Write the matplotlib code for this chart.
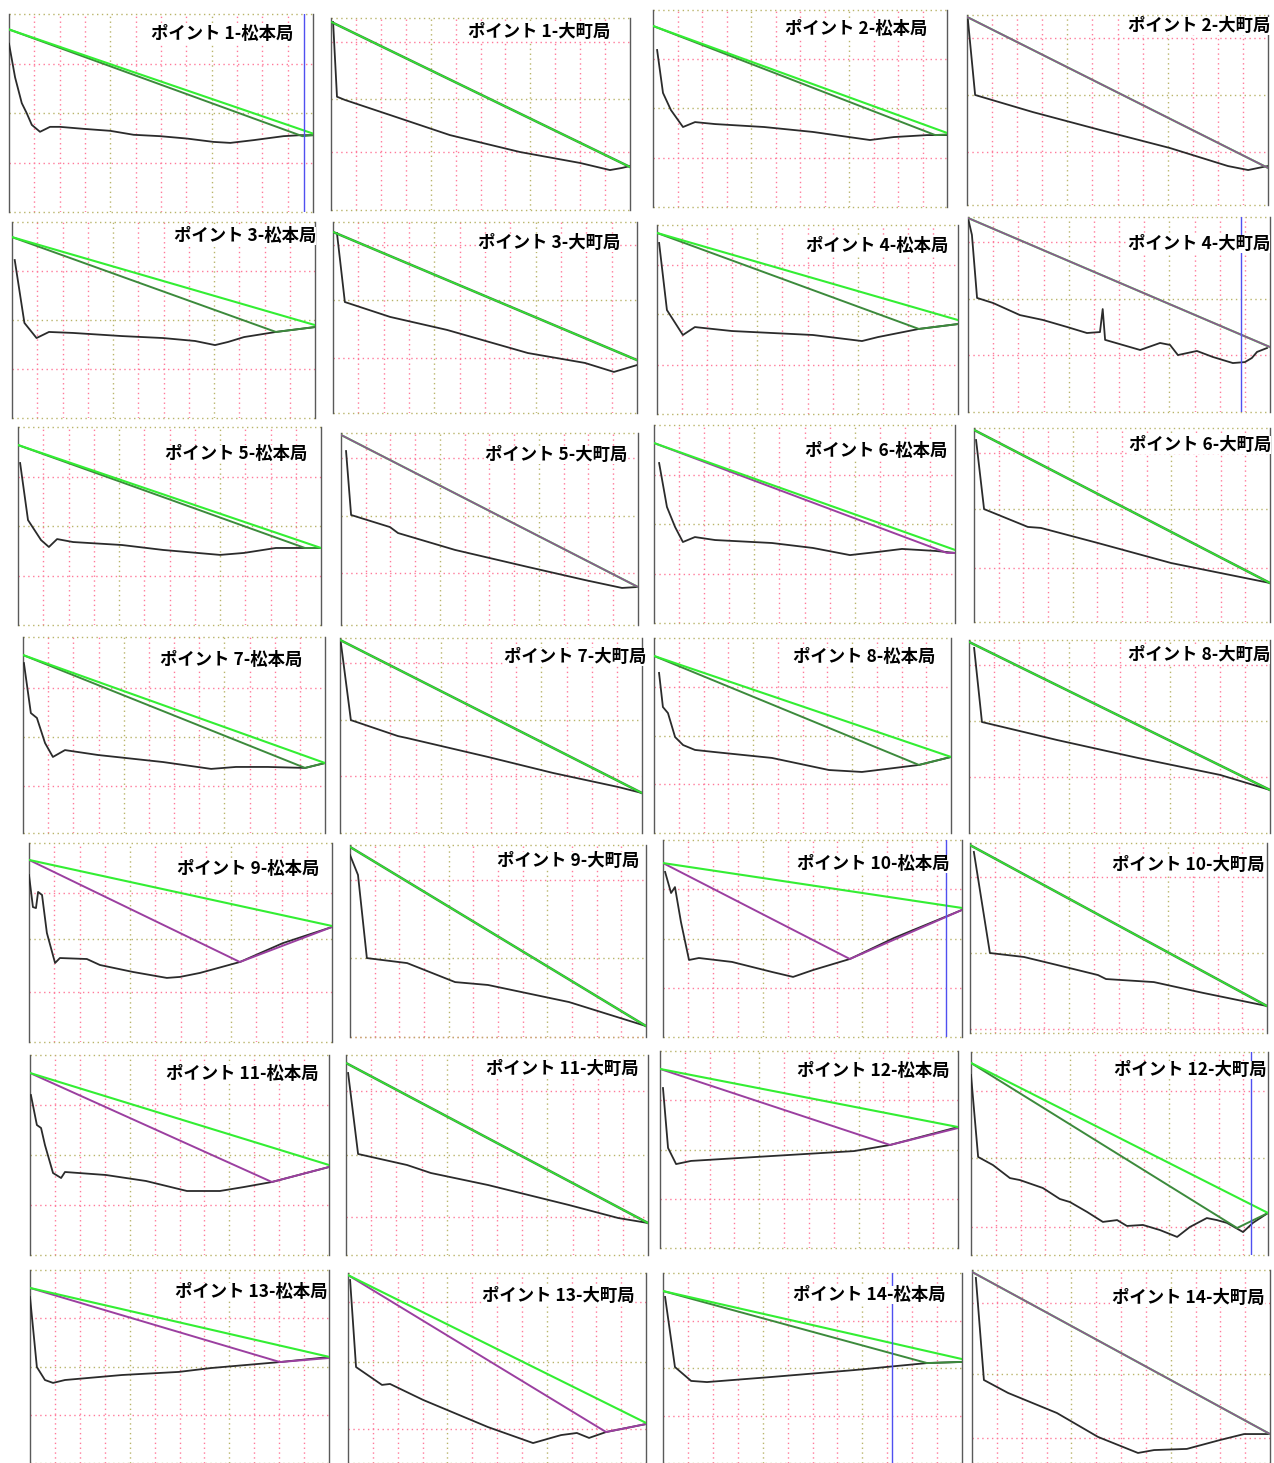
import matplotlib
matplotlib.use("Agg")
import matplotlib.pyplot as plt

plt.rcParams['font.family'] = ['Noto Sans CJK JP', 'DejaVu Sans']

# Profile panels: 14 points x 2 stations
points = list(range(1, 15))
stations = ["松本局", "大町局"]
titles = [f"ポイント {p}-{s}" for p in points for s in stations]

# terrain profile (distance 0-100, elevation 0-100 in panel scale)
terrain = [
    [(0, 85), (2, 68), (4.2, 55), (5.8, 50), (7.5, 44), (10.2, 40.5), (13.5, 43), (16.8, 43), (24.5, 42), (33.3, 41),
     (41, 39), (49.7, 38.3), (58.5, 37.1), (67.3, 35.4), (72.8, 34.9), (80.5, 36.3), (90.3, 38.3), (95.8, 38.8), (100, 38.8)],
    [(0.7, 97.9), (2, 59), (4.7, 57.3), (19.7, 49.5), (39.8, 39), (63.2, 30.2), (83.3, 24.5), (93.3, 20.8), (97.3, 21.9), (100, 22.9)],
    [(1.4, 79.7), (3.4, 57.9), (6.1, 49.2), (10.2, 40.6), (14.3, 43.1), (21.1, 42.1), (37.8, 40.6), (54.4, 38.1), (73.8, 34),
     (81.9, 35.5), (93.2, 36.5), (100, 36.5)],
    [(0.3, 97.4), (2.7, 57.9), (21.9, 48.9), (44.2, 39.5), (67.4, 30), (86.7, 20.5), (93.4, 18.4), (98.3, 20), (100, 20.5)],
    [(0.9, 80.6), (4.1, 48.5), (8.1, 40.8), (12.2, 43.9), (20.1, 43.4), (36.3, 41.8), (49.8, 40.8), (60.4, 39.3), (67, 37.2),
     (71.3, 38.8), (76.6, 41.3), (87.1, 43.9), (100, 46.4)],
    [(1.3, 94.2), (3.9, 58.1), (18.8, 50.3), (37.5, 43.5), (64.1, 31.4), (82.9, 26.2), (92.4, 21.5), (100, 25.1)],
    [(0.7, 90.5), (3.3, 55), (8.6, 41.8), (12.6, 46), (24.9, 43.9), (51.8, 41.8), (68.1, 38.6), (73.4, 40.7), (87, 45), (100, 47.6)],
    [(0, 99.5), (1.3, 90.8), (3, 58.5), (8.3, 55.9), (17.2, 49.7), (24.8, 47.2), (32.8, 43.6), (39.4, 40.5), (43.7, 41),
     (44.6, 52.8), (45.4, 37), (57, 31.8), (63.6, 35.4), (66.9, 34.4), (69.5, 29.2), (75.8, 31.3), (81.1, 28.2), (87.7, 25.1),
     (91.7, 25.6), (94, 27.7), (95.7, 30.8), (99, 32.8)],
    [(0.7, 81.8), (3.3, 53), (7.6, 42.9), (10.2, 39.4), (12.9, 43.4), (18.2, 41.9), (34.3, 40.4), (47.9, 37.9), (66.7, 35.4),
     (74.6, 36.4), (85.1, 38.9), (93.4, 38.9), (100, 38.9)],
    [(1.7, 90.6), (3.4, 57.3), (16.5, 51), (19.2, 47.9), (38.4, 39.1), (63, 30.2), (82.2, 23.4), (94.6, 19.3), (100, 19.8)],
    [(1.7, 80.8), (4.3, 58.6), (7, 48.5), (9.6, 40.9), (13.6, 43.4), (20.3, 41.9), (39.2, 40.4), (52.8, 37.9), (65.1, 34.3),
     (74.4, 35.9), (82.4, 37.4), (93.4, 36.4), (100, 35.4)],
    [(0.7, 93.8), (3.4, 58.2), (18.2, 49), (22.6, 48.5), (41.9, 40.7), (66.6, 30.4), (83.1, 25.3), (100, 20.1)],
    [(0.3, 86.7), (2.6, 61.2), (4.6, 58.7), (7.3, 45.9), (9.9, 38.8), (13.9, 42.3), (24.8, 39.8), (46.4, 36.2), (62.3, 32.7),
     (70.5, 33.7), (81.1, 33.7), (93.4, 33.2), (100, 35.7)],
    [(0.3, 97.4), (3.6, 57.9), (19.2, 49.7), (22.2, 48.7), (49, 39), (70.5, 30.8), (92.1, 23.6), (100, 20.5)],
    [(1.7, 82.1), (3, 64.6), (4.7, 61.5), (7.1, 49.2), (9.8, 45.1), (13.8, 42.6), (20.5, 41.5), (39.7, 38.5), (58.9, 32.3),
     (70, 31.3), (75.4, 32.3), (89.2, 34.9), (100, 39)],
    [(1.7, 95.9), (4.3, 57.5), (18.3, 52.3), (29.2, 48.2), (56.1, 38.9), (83.4, 30.1), (100, 22.3)],
    [(0, 83.9), (1.3, 67.8), (2.3, 67.3), (3, 75.4), (4.3, 73.9), (5.9, 54.8), (8.6, 39.7), (10.2, 42.2), (19.1, 41.7),
     (23.4, 38.7), (34.3, 35.2), (45.5, 32.2), (49.8, 32.7), (56.4, 34.7), (69.6, 40.2), (83.8, 49.7), (100, 57.8)],
    [(0, 94.8), (2.7, 84.4), (5.7, 41.1), (19.3, 38.5), (35.5, 28.6), (46.6, 27.1), (74, 18.2), (100, 5.7)],
    [(0.7, 83.8), (2.7, 73.1), (4, 76.1), (6, 58.4), (8.7, 39.1), (12, 40.1), (23.1, 38.1), (36.5, 33), (43.5, 30.5),
     (50.2, 34), (62.5, 39.6), (77.3, 50.3), (100, 64.5)],
    [(1.3, 95.3), (6.7, 42.1), (18.2, 40), (29.3, 35.8), (43.1, 30.5), (45.8, 28.4), (61.9, 26.8), (78.5, 21.1), (100, 14.2)],
    [(0.3, 80), (2.3, 65), (3.7, 63.5), (5, 55), (7.7, 41), (10.4, 38.5), (11.7, 41.5), (25.4, 40), (38.8, 37), (52.5, 32),
     (63.5, 32), (71.6, 34), (80.9, 36.5), (100, 44)],
    [(0.7, 91), (4, 50.5), (20.2, 45), (28.1, 41), (47, 35), (73.8, 25), (90.1, 18.5), (100, 16)],
    [(1, 81.2), (2.7, 50.8), (5.4, 42.6), (10.4, 44.2), (37.6, 46.7), (65.1, 49.2), (77.2, 52.3), (100, 61.4)],
    [(0, 88.7), (2.4, 48.3), (7.4, 44.3), (13.1, 37.9), (16.5, 36.9), (24.2, 33), (29.9, 27.6), (33.3, 26.1), (39.1, 21.2),
     (44.4, 16.3), (49.2, 17.2), (52.5, 14.3), (57.9, 14.8), (63.6, 12.3), (69.4, 8.9), (73.7, 13.8), (79.4, 18.2),
     (82.8, 17.2), (86.2, 15.8), (91.6, 11.3), (94.9, 15.8), (100, 20.7)],
    [(0, 86), (2.3, 49.7), (5, 43), (7.7, 41.5), (11.7, 43), (30.8, 45.6), (49.8, 47.2), (60.5, 49.2), (83.6, 52.3), (100, 54.9)],
    [(0.7, 96.3), (2.7, 50.5), (11.4, 41.1), (14.1, 41.6), (25.2, 33.2), (47, 18.9), (62.1, 10.5), (71.5, 14.7), (76.8, 15.8),
     (80.9, 13.2), (86.6, 16.3), (100, 20.5)],
    [(0.7, 87.4), (4, 50.5), (9.4, 43.2), (14.7, 42.6), (36.5, 45.3), (63.9, 48.9), (88.3, 52.6), (100, 53.2)],
    [(1.3, 95.9), (4, 43), (12.1, 36.3), (28.5, 25.9), (42.3, 13.5), (55.7, 5.2), (61.1, 6.7), (72.1, 7.3), (83.2, 11.9),
     (91.3, 15), (100, 15)],
]

# line of sight (elevation at start, at end)
los = [(92.2, 39.6), (98, 22.4), (91.9, 37.6), (99, 19.5), (92.3, 47.4), (94.8, 27.7), (95.8, 49.7), (99.5, 33.3),
       (90.9, 38.9), (99, 19.8), (90.9, 36.9), (99, 20.1), (90.8, 35.7), (99, 20.5), (90.8, 39), (99, 22.3),
       (91.5, 58.3), (99, 5.7), (88.3, 65.5), (98.9, 14.2), (91, 45), (96, 16), (90.9, 61.4), (94.6, 20.7),
       (90.7, 55), (98.9, 21.1), (90.5, 54.7), (99, 15)]

# second path: kind and its knee point (None = straight)
path_kind = ["dg", "dg", "dg", "pu", "dg", "dg", "dg", "pu", "dg", "pu", "pu", "dg", "dg", "dg",
             "dg", "dg", "pu", "dg", "pu", "dg", "pu", "dg", "pu", "dg", "pu", "pu", "dg", "pu"]
path_knee = [(96.5, 38.3), None, (96, 36.5), None, (87.1, 43.9), None, (87, 45), None,
             (94.7, 38.9), None, (97.3, 35.4), None, (93.4, 33.2), None, (89.2, 34.9), None,
             (69.6, 40.2), None, (62.5, 39.6), None, (80.9, 36.5), None, (77.2, 52.3), (89.6, 13.3),
             (83.6, 52.3), (86.6, 16.3), (88.3, 52.6), None]
path_end = [38.8, 22.4, 36.8, 19.5, 46.4, 27.7, 47.6, 33.3, 38.9, 19.8, 35.4, 20.1, 35.7, 20.5,
            39, 22.3, 57.8, 5.7, 64.5, 14.2, 44, 16, 60.9, 20.7, 54.4, 20.5, 53.2, 15]

# blue marker position
blue = [96.9, None, None, None, None, None, None, 90.4, None, None, None, None, None, None,
        None, None, None, None, 94.6, None, None, None, None, 94.3, None, None, 76.6, None]

# horizontal grid levels (pink, olive, pink)
hgrid = [(25, 50, 75), (30, 58, 87.5), (25, 50, 75), (28, 58, 88), (25, 50, 75), (29, 59, 88), (26, 53, 79),
         (29, 58, 87), (25, 50, 75), (27, 57, 87), (25, 50, 75), (28, 58, 87), (24, 49, 74), (29, 58, 87),
         (25, 50, 75), (29, 58, 87), (25, 52, 75), (0, 41, 82), (25, 50, 75), (2, 42, 82), (25, 50, 75),
         (19, 50, 82), (25, 50, 75), (14, 48, 81), (25, 50, 75), (18, 53, 85), (25, 50, 75), (13, 46, 83)]

# panel boxes in pixels (left, top, right, bottom) and title anchor (right x, center y)
boxes = [(9, 14, 313, 212), (331, 18, 630, 210), (653, 10, 947, 207), (967, 15, 1268, 205),
         (12, 222, 315, 418), (333, 222, 637, 413), (657, 225, 958, 414), (968, 217, 1270, 412),
         (18, 427, 321, 625), (341, 433, 638, 625), (654, 425, 955, 623), (974, 428, 1270, 622),
         (23, 637, 325, 833), (340, 638, 642, 833), (654, 638, 951, 833), (969, 640, 1270, 833),
         (29, 843, 332, 1042), (350, 845, 646, 1037), (663, 840, 962, 1037), (970, 843, 1267, 1033),
         (30, 1055, 329, 1255), (346, 1055, 648, 1255), (660, 1051, 958, 1248), (971, 1052, 1268, 1255),
         (30, 1270, 329, 1463), (348, 1273, 646, 1463), (663, 1273, 962, 1463), (972, 1270, 1270, 1463)]
title_pos = [(293, 34), (610, 32), (927, 29), (1270, 26), (316, 236), (620, 243), (948, 246), (1270, 244),
             (307, 454), (627, 455), (947, 451), (1271, 445), (302, 660), (646, 657), (935, 657), (1270, 655),
             (319, 869), (639, 861), (950, 864), (1265, 865), (319, 1074), (639, 1069), (950, 1071), (1267, 1070),
             (328, 1292), (635, 1296), (946, 1295), (1265, 1298)]

PINK = "#ff7a9a"
OLIVE = "#b9b46a"
DOT = (0, (1, 2.5))

W, H = 1274, 1463
fig = plt.figure(figsize=(W / 100, H / 100), dpi=100)
fig.patch.set_facecolor("white")

for i in range(len(titles)):
    l, t, r, b = boxes[i]
    ax = fig.add_axes([l / W, 1 - b / H, (r - l) / W, (b - t) / H])
    ax.set_xlim(0, 100)
    ax.set_ylim(0, 100)
    ax.set_xticks([])
    ax.set_yticks([])
    ax.spines["top"].set_visible(False)
    ax.spines["bottom"].set_visible(False)
    for s in ["left", "right"]:
        ax.spines[s].set_color("#5a5a5a")
        ax.spines[s].set_linewidth(1.0)

    # grid
    for k in range(1, 12):
        ax.axvline(100 * k / 12, color=OLIVE if k % 4 == 0 else PINK, ls=DOT, lw=1.0, zorder=1)
    lo, mid, hi = hgrid[i]
    ax.axhline(lo, color=PINK, ls=DOT, lw=1.0, zorder=1, clip_on=False)
    ax.axhline(mid, color=OLIVE, ls=DOT, lw=1.0, zorder=1)
    ax.axhline(hi, color=PINK, ls=DOT, lw=1.0, zorder=1)
    ax.axhline(0, color=OLIVE, ls=DOT, lw=1.0, zorder=1, clip_on=False)
    ax.axhline(100, color=OLIVE, ls=DOT, lw=1.0, zorder=1, clip_on=False)

    # terrain
    tx = [p[0] for p in terrain[i]]
    ty = [p[1] for p in terrain[i]]
    ax.plot(tx, ty, color="#2b2b2b", lw=1.3, zorder=3)

    # second path
    y0, y1 = los[i]
    if path_knee[i] is None:
        px, py = [0, 100], [y0, path_end[i]]
    else:
        px, py = [0, path_knee[i][0], 100], [y0, path_knee[i][1], path_end[i]]
    pcol = "#9b3fa0" if path_kind[i] == "pu" else "#3c8a3c"

    if path_knee[i] is None and path_kind[i] == "pu":
        ax.plot([0, 100], [y0, y1], color="#33e633", lw=1.5, zorder=4)
        ax.plot(px, py, color=pcol, lw=1.3, alpha=0.85, zorder=5)
    elif path_knee[i] is None:
        ax.plot(px, py, color=pcol, lw=1.8, zorder=4)
        ax.plot([0, 100], [y0, y1], color="#33e633", lw=1.0, zorder=5)
    else:
        ax.plot(px, py, color=pcol, lw=1.4, zorder=4)
        ax.plot([0, 100], [y0, y1], color="#33ee33", lw=1.5, zorder=5)

    if blue[i] is not None:
        ax.axvline(blue[i], color="#5050f0", lw=1.0, zorder=6)

    tr, ty_ = title_pos[i]
    fig.text(tr / W, 1 - ty_ / H, titles[i], ha="right", va="center", fontsize=12.5,
             fontweight="bold", color="black",
             bbox=dict(facecolor="white", edgecolor="none", pad=0.3))

fig.savefig("out.png", dpi=100, facecolor="white")
